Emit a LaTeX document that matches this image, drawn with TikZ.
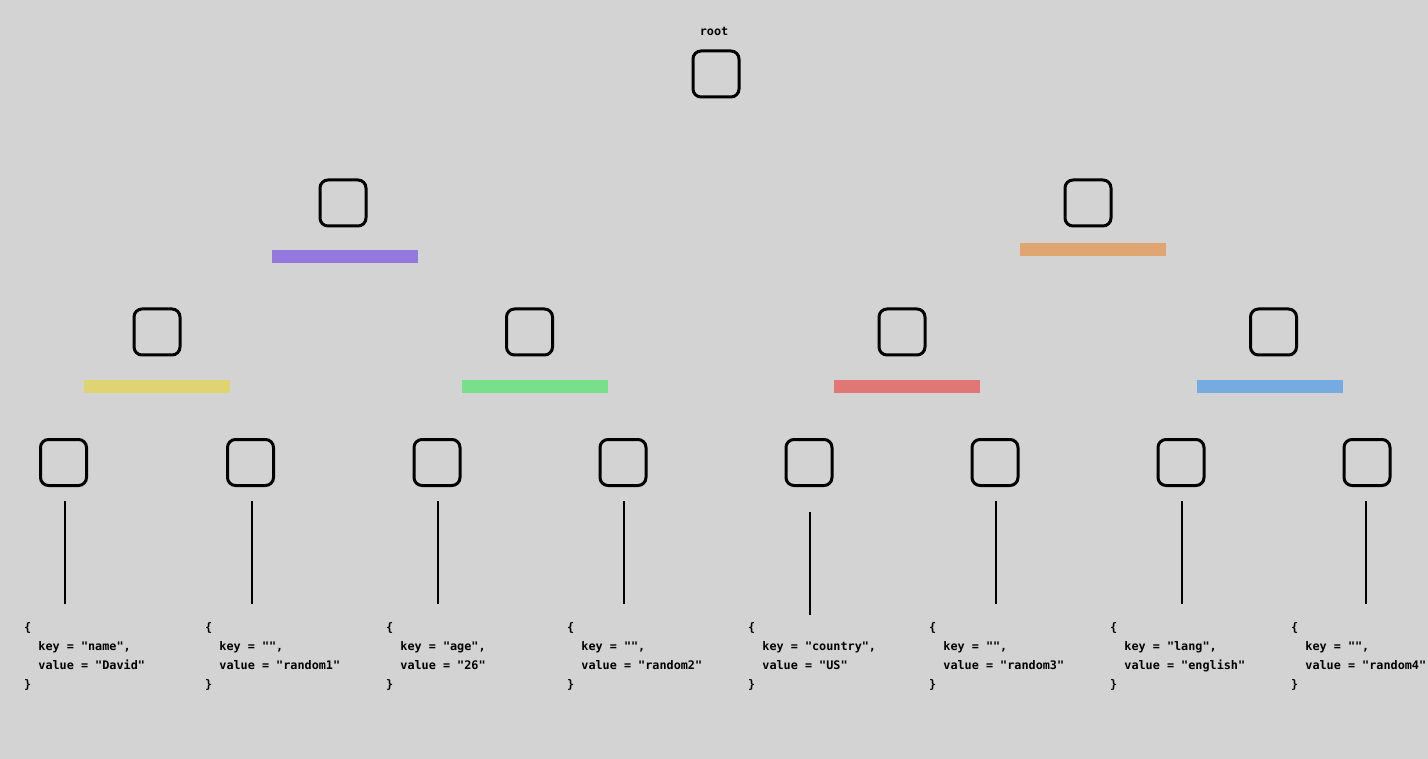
\documentclass[tikz,border=0pt]{standalone}
\usepackage{fontspec}
\setmonofont{DejaVu Sans Mono}
\definecolor{bg}{HTML}{D3D3D3}
\definecolor{cpurple}{HTML}{9378DD}
\definecolor{corange}{HTML}{E0A570}
\definecolor{cyellow}{HTML}{E0D472}
\definecolor{cgreen}{HTML}{78E08A}
\definecolor{cred}{HTML}{E07775}
\definecolor{cblue}{HTML}{75ABE0}
\begin{document}
\begin{tikzpicture}[x=1pt,y=-1pt,
  box/.style={draw=black,line width=3pt,rounded corners=8pt,minimum size=46pt,inner sep=0pt},
  bar/.style={fill=#1,draw=none,minimum width=146pt,minimum height=13pt,inner sep=0pt},
  kv/.style={anchor=north west,inner sep=0pt,align=left,font={\ttfamily\bfseries\fontsize{11.8}{19}\selectfont}},
  lbl/.style={inner sep=0pt,font={\ttfamily\bfseries\fontsize{11.8}{14}\selectfont}},
  stem/.style={line width=2pt,black}]
\useasboundingbox[fill=bg] (0,0) rectangle (1428,759);
\node[lbl,anchor=base] (rootlbl) at (714,36) {root};
\node[box] (root) at (716,74) {};
\node[box] (a) at (343,203) {};
\node[box] (b) at (1088,203) {};
\node[bar=cpurple] (barA) at (345,256.5) {};
\node[bar=corange] (barB) at (1093,249.5) {};
\node[box] (a1) at (157,332) {};
\node[box] (a2) at (529.5,332) {};
\node[box] (b1) at (902,332) {};
\node[box] (b2) at (1273.5,332) {};
\node[bar=cyellow] (barA1) at (157,386.5) {};
\node[bar=cgreen] (barA2) at (535,386.5) {};
\node[bar=cred] (barB1) at (907,386.5) {};
\node[bar=cblue] (barB2) at (1270,386.5) {};
\foreach \i/\x in {1/63.5,2/250.5,3/437,4/623,5/809,6/995,7/1181,8/1367}{
  \node[box] (l\i) at (\x,462.5) {};
}
\foreach \i/\x/\ya/\yb in {1/65/501/604,2/252/501/604,3/438/501/604,4/624/501/604,5/810/512/615,6/996/501/604,7/1182/501/604,8/1366/501/604}{
  \coordinate (s\i) at (\x,\ya);
  \coordinate (e\i) at (\x,\yb);
  \draw[stem] (s\i) -- (e\i);
}
\foreach \i/\x/\k/\v in {1/24/name/David,2/205//random1,3/386/age/26,4/567//random2,5/748/country/US,6/929//random3,7/1110/lang/english,8/1291//random4}{
  \node[kv] (t\i) at (\x,622) {\{\\\phantom{xx}key = "\k",\\\phantom{xx}value = "\v"\\\}};
}
\end{tikzpicture}
\end{document}
